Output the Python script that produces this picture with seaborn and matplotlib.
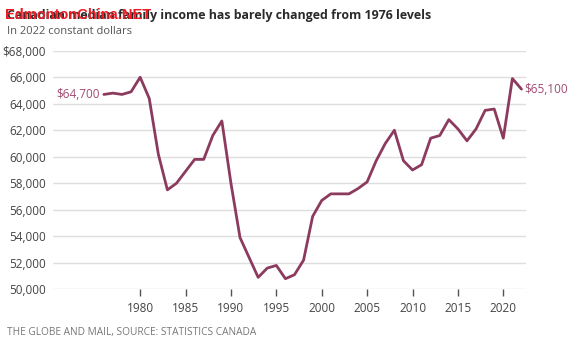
import matplotlib
matplotlib.use("Agg")
import matplotlib.pyplot as plt
import seaborn as sns
import pandas as pd

years = list(range(1976, 2023))
income = [64700, 64800, 64700, 64900, 66000, 64400, 60200, 57500, 58000, 58900,
          59800, 59800, 61600, 62700, 58000, 53900, 52400, 50900, 51600, 51800,
          50800, 51100, 52200, 55500, 56700, 57200, 57200, 57200, 57600, 58100,
          59700, 61000, 62000, 59700, 59000, 59400, 61400, 61600, 62800, 62100,
          61200, 62100, 63500, 63600, 61400, 65900, 65100]
yticks = [50000, 52000, 54000, 56000, 58000, 60000, 62000, 64000, 66000, 68000]
ytick_labels = ["50,000", "52,000", "54,000", "56,000", "58,000", "60,000",
                "62,000", "64,000", "66,000", "$68,000"]
xticks = [1980, 1985, 1990, 1995, 2000, 2005, 2010, 2015, 2020]
title = "Canadian median family income has barely changed from 1976 levels"
subtitle = "In 2022 constant dollars"
source = "THE GLOBE AND MAIL, SOURCE: STATISTICS CANADA"
watermark = "EdmontonChina.NET"
start_label = "$64,700"
end_label = "$65,100"

df = pd.DataFrame({"year": years, "income": income})

sns.set_theme(style="white")
plt.rcParams["font.family"] = ["Open Sans", "DejaVu Sans"]

LINE = "#8c3b5e"
LABEL = "#a24a72"
TXT = "#444444"

fig = plt.figure(figsize=(5.74, 3.5), dpi=100)
ax = fig.add_axes([53/574, 1-289.3/350, (526-53)/574, (289.3-50.7)/350])

for y in yticks:
    ax.axhline(y, color="#dedede", lw=1.0, zorder=0)

sns.lineplot(data=df, x="year", y="income", ax=ax, color=LINE, lw=2.0, zorder=3)

ax.set_xlim(1970.4, 2022.5)
ax.set_ylim(50000, 68000)
ax.set_yticks(yticks)
ax.set_yticklabels(ytick_labels)
ax.set_xticks(xticks)
ax.set_xticklabels([str(x) for x in xticks])
ax.set_xlabel("")
ax.set_ylabel("")
for s in ax.spines.values():
    s.set_visible(False)
ax.tick_params(axis="y", length=0, pad=5, labelsize=8.5, labelcolor=TXT)
ax.tick_params(axis="x", length=5, width=1, color="#555555", pad=4,
               labelsize=8.5, labelcolor=TXT, direction="out", bottom=True)

ax.annotate(start_label, xy=(years[0], income[0]), xytext=(-3, 0),
            textcoords="offset points", ha="right", va="center",
            color=LABEL, fontsize=8.5)
ax.annotate(end_label, xy=(years[-1], income[-1]), xytext=(2, 0),
            textcoords="offset points", ha="left", va="center",
            color=LABEL, fontsize=8.5, annotation_clip=False)

fig.text(7/574, 1-15/350, title, ha="left", va="center", fontsize=8.9,
         fontweight="bold", color="#2a2a2a")
fig.text(5/574, 1-15/350, watermark, ha="left", va="center", fontsize=10.5,
         fontweight="bold", color="#ee1c25",
         family=["DejaVu Sans Condensed", "Liberation Sans", "DejaVu Sans"])
fig.text(7/574, 1-31/350, subtitle, ha="left", va="center", fontsize=8,
         color="#555555")
fig.text(7/574, 1-333/350, source, ha="left", va="center", fontsize=7.3,
         color="#777777")

fig.savefig("out.png", dpi=100)
